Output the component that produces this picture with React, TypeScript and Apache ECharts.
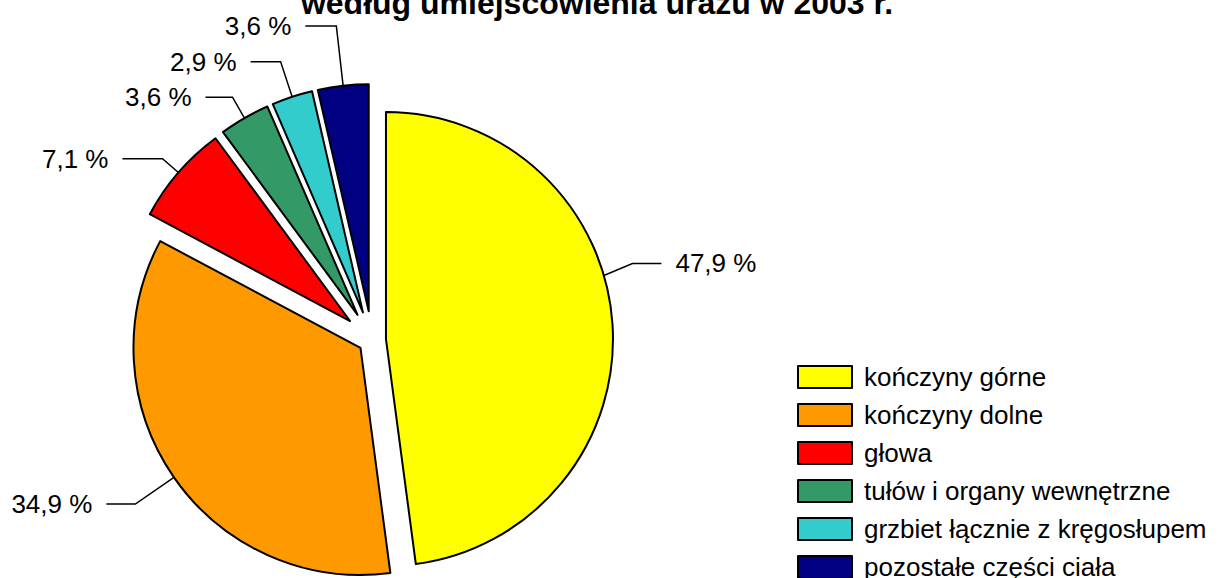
import React, { useEffect, useRef } from "react";
import * as echarts from "echarts";

const categories = [
  "kończyny górne",
  "kończyny dolne",
  "głowa",
  "tułów i organy wewnętrzne",
  "grzbiet łącznie z kręgosłupem",
  "pozostałe części ciała",
];
const values = [47.9, 34.9, 7.1, 3.6, 2.9, 3.6];
const colors = ["#FFFF00", "#FF9900", "#FF0000", "#339966", "#33CCCC", "#000080"];
const titleText = "według umiejscowienia urazu w 2003 r.";

// styling: explosion distance per slice, label-line segment lengths per slice
const explode = [14, 14, 29, 29, 29, 29];
const lineLen1 = [20, 47, 21, 24, 37, 60];
const lineLen2 = [29, 29, 40, 27, 30, 31];

const fmt = (v: number) => v.toFixed(1).replace(".", ",") + " %";
const FONT = "Liberation Sans, Arial, sans-serif";
const R = 227;

export default function App() {
  const ref = useRef<HTMLDivElement>(null);
  useEffect(() => {
    document.body.style.margin = "0";
    const chart = echarts.init(ref.current!, null, { renderer: "svg" });
    const total = values.reduce((a, b) => a + b, 0);
    const groups = Array.from(new Set(explode));

    const makeSeries = (off: number) => ({
      type: "pie",
      center: [372, 340],
      radius: R,
      startAngle: 90,
      clockwise: true,
      selectedMode: "multiple",
      selectedOffset: off,
      avoidLabelOverlap: false,
      itemStyle: { borderColor: "#000", borderWidth: 2 },
      label: {
        show: true,
        formatter: (p: any) => fmt(p.value),
        fontSize: 26,
        color: "#000",
        fontFamily: FONT,
        distanceToLabelLine: 14,
        bleedMargin: 0,
      },
      labelLine: { show: true, lineStyle: { color: "#000", width: 1.5 } },
      labelLayout: (p: any) => {
        if (p.dataIndex !== 0 || !p.labelLinePoints || explode[0] !== off) return {};
        // first label: anchor its leader line higher on the arc
        const pts = p.labelLinePoints;
        const mid = ((values[0] / 2) / total) * 2 * Math.PI;
        const ang = mid - (12.5 * Math.PI) / 180;
        const cx = pts[0][0] - R * Math.sin(mid);
        const cy = pts[0][1] + R * Math.cos(mid);
        const p0 = [cx + R * Math.sin(ang), cy - R * Math.cos(ang)];
        const dy = p0[1] - 12 - pts[1][1];
        return {
          dy,
          labelLinePoints: [p0, [pts[1][0], pts[1][1] + dy], [pts[2][0], pts[2][1] + dy]],
        };
      },
      emphasis: { disabled: true },
      data: categories.map((name, i) => {
        const visible = explode[i] === off;
        return {
          name,
          value: values[i],
          selected: visible,
          itemStyle: visible ? { color: colors[i] } : { color: colors[i], opacity: 0, borderWidth: 0 },
          label: { show: visible },
          labelLine: { show: visible, length: lineLen1[i], length2: lineLen2[i] },
        };
      }),
    });

    chart.setOption({
      animation: false,
      backgroundColor: "#FFFFFF",
      textStyle: { fontFamily: FONT },
      title: {
        text: titleText,
        left: 592,
        textAlign: "center",
        top: -18,
        textStyle: { fontSize: 32, fontWeight: "bold", color: "#000", fontFamily: FONT },
      },
      legend: {
        orient: "vertical",
        left: 792,
        top: 359,
        height: 260,
        itemWidth: 54,
        itemHeight: 22,
        itemGap: 12,
        icon: "rect",
        selectedMode: false,
        data: categories.map((name, i) => ({
          name,
          itemStyle: { color: colors[i], borderColor: "#000", borderWidth: 2, opacity: 1 },
        })),
        textStyle: { fontSize: 26, color: "#000", padding: [0, 0, 0, 7], fontFamily: FONT },
      },
      series: groups.map((g) => makeSeries(g)),
    });
    return () => chart.dispose();
  }, []);
  return <div ref={ref} style={{ position: "absolute", left: 0, top: 0, width: 1218, height: 578 }} />;
}
